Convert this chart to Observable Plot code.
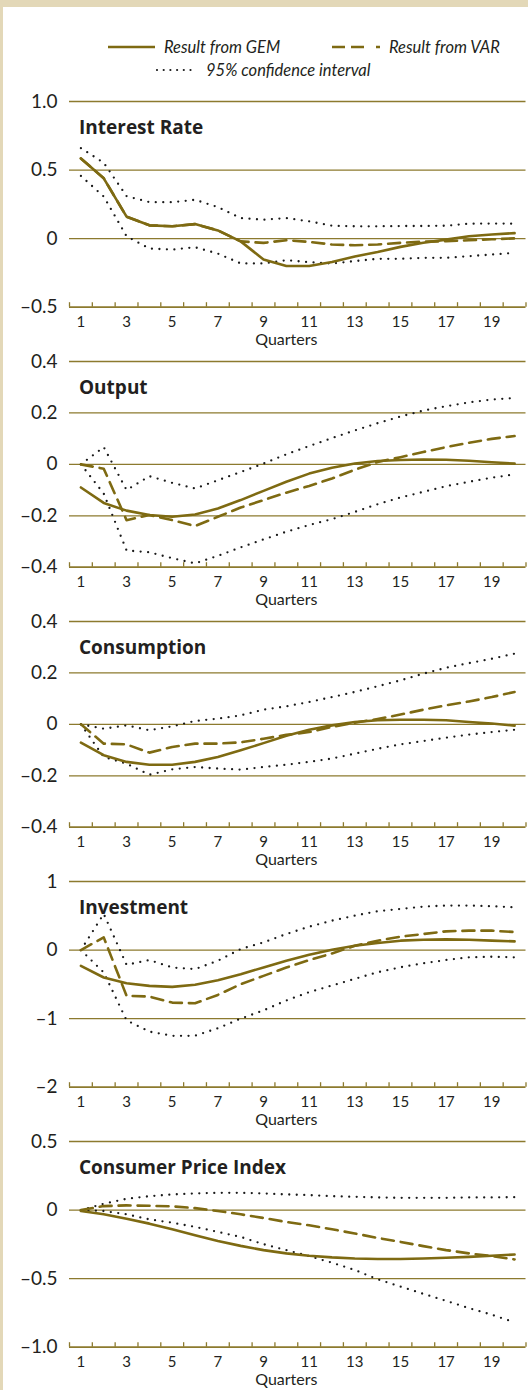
<!DOCTYPE html>
<html><head><meta charset="utf-8">
<script src="https://cdn.jsdelivr.net/npm/d3@7"></script>
<script src="https://cdn.jsdelivr.net/npm/@observablehq/plot@0.6"></script>
<style>
html,body{margin:0;padding:0;background:#e3d8b8;}
body{width:528px;height:1390px;overflow:hidden;position:relative;font-family:Lato,sans-serif;color:#231f20;}
#card{position:absolute;left:3px;top:7px;width:525px;height:1383px;background:#fff;overflow:hidden;}
#legend{position:absolute;left:0;top:0;width:525px;height:84px;}
#legend .t{position:absolute;font-style:italic;font-size:16.5px;line-height:20px;white-space:nowrap;}
#panels{position:absolute;left:0;top:84px;}
#panels svg{display:block;}
</style>
</head><body>
<div id="card">
  <div id="legend">
    <svg width="525" height="84" style="position:absolute;left:0;top:0">
      <line x1="105" y1="40" x2="152" y2="40" stroke="#7e6a12" stroke-width="2.6"/>
      <line x1="329" y1="40" x2="380" y2="40" stroke="#7e6a12" stroke-width="2.6" stroke-dasharray="13,6,13,12,4"/>
      <line x1="154" y1="63" x2="188" y2="63" stroke="#1a1a1a" stroke-width="2.2" stroke-linecap="round" stroke-dasharray="0,6.7"/>
    </svg>
    <div class="t" id="lg1" style="left:161px;top:30px"></div>
    <div class="t" id="lg2" style="left:386px;top:30px"></div>
    <div class="t" id="lg3" style="left:203px;top:53px"></div>
  </div>
  <div id="panels"></div>
</div>
<script>
// ---- legend text ----
const legendLabels = ["Result from GEM", "Result from VAR", "95% confidence interval"];

// ---- x axis ----
const quarters = [1,2,3,4,5,6,7,8,9,10,11,12,13,14,15,16,17,18,19,20];
const quarterLabels = [1,3,5,7,9,11,13,15,17,19];
const quarterBoundaries = [0.5,1.5,2.5,3.5,4.5,5.5,6.5,7.5,8.5,9.5,10.5,11.5,12.5,13.5,14.5,15.5,16.5,17.5,18.5,19.5,20.5];
const xAxisLabel = "Quarters";
const xAxisLabelAt = 10;

// ---- titles ----
const titles = ["Interest Rate", "Output", "Consumption", "Investment", "Consumer Price Index"];

// ---- y ticks ----
const irTicks = [1.0, 0.5, 0, -0.5];
const irTickLabels = ["1.0", "0.5", "0", "\u20130.5"];
const outTicks = [0.4, 0.2, 0, -0.2, -0.4];
const outTickLabels = ["0.4", "0.2", "0", "\u20130.2", "\u20130.4"];
const conTicks = [0.4, 0.2, 0, -0.2, -0.4];
const conTickLabels = ["0.4", "0.2", "0", "\u20130.2", "\u20130.4"];
const invTicks = [1, 0, -1, -2];
const invTickLabels = ["1", "0", "\u20131", "\u20132"];
const cpiTicks = [0.5, 0, -0.5, -1.0];
const cpiTickLabels = ["0.5", "0", "\u20130.5", "\u20131.0"];

// ---- Interest Rate ----
const irGEM   = [0.585,0.44,0.16,0.097,0.09,0.106,0.06,-0.02,-0.152,-0.2,-0.2,-0.17,-0.13,-0.097,-0.06,-0.03,-0.007,0.017,0.03,0.04];
const irVAR   = [0.585,0.44,0.16,0.097,0.09,0.106,0.06,-0.02,-0.031,-0.012,-0.024,-0.043,-0.048,-0.043,-0.031,-0.022,-0.019,-0.012,-0.005,0.002];
const irUpper = [0.66,0.553,0.31,0.266,0.266,0.283,0.23,0.15,0.138,0.15,0.126,0.094,0.09,0.09,0.092,0.092,0.094,0.109,0.11,0.109];
const irLower = [0.457,0.307,0.017,-0.072,-0.08,-0.063,-0.109,-0.181,-0.181,-0.157,-0.172,-0.181,-0.164,-0.147,-0.147,-0.14,-0.14,-0.128,-0.116,-0.104];

// ---- Output ----
const outGEM   = [-0.09,-0.15,-0.18,-0.197,-0.204,-0.195,-0.172,-0.139,-0.103,-0.068,-0.036,-0.013,0.003,0.013,0.017,0.019,0.018,0.014,0.008,0.003];
const outVAR   = [0,-0.017,-0.217,-0.197,-0.217,-0.24,-0.204,-0.168,-0.139,-0.11,-0.084,-0.055,-0.021,0.009,0.028,0.048,0.067,0.084,0.099,0.11];
const outUpper = [0,0.067,-0.1,-0.046,-0.072,-0.094,-0.062,-0.03,0.003,0.039,0.071,0.102,0.132,0.16,0.186,0.209,0.226,0.241,0.252,0.258];
const outLower = [0,-0.114,-0.335,-0.342,-0.365,-0.385,-0.356,-0.323,-0.292,-0.262,-0.236,-0.213,-0.185,-0.155,-0.129,-0.107,-0.085,-0.068,-0.052,-0.039];

// ---- Consumption ----
const conGEM   = [-0.071,-0.12,-0.146,-0.157,-0.157,-0.146,-0.127,-0.101,-0.073,-0.044,-0.021,-0.004,0.009,0.016,0.018,0.018,0.016,0.009,0.003,-0.005];
const conVAR   = [0,-0.075,-0.078,-0.11,-0.088,-0.075,-0.075,-0.07,-0.056,-0.041,-0.03,-0.01,0.006,0.021,0.038,0.057,0.074,0.089,0.106,0.126];
const conUpper = [0,-0.017,-0.004,-0.023,-0.008,0.013,0.022,0.035,0.057,0.07,0.087,0.106,0.126,0.148,0.171,0.197,0.22,0.238,0.255,0.275];
const conLower = [0,-0.127,-0.153,-0.196,-0.175,-0.166,-0.172,-0.176,-0.166,-0.157,-0.146,-0.133,-0.114,-0.095,-0.078,-0.065,-0.052,-0.04,-0.03,-0.021];

// ---- Investment ----
const invGEM   = [-0.23,-0.4,-0.483,-0.522,-0.537,-0.507,-0.44,-0.351,-0.254,-0.156,-0.068,0.005,0.063,0.102,0.137,0.151,0.156,0.151,0.137,0.127];
const invVAR   = [0,0.185,-0.668,-0.678,-0.766,-0.776,-0.654,-0.498,-0.376,-0.254,-0.146,-0.049,0.063,0.137,0.195,0.234,0.273,0.283,0.283,0.263];
const invUpper = [0,0.527,-0.215,-0.146,-0.254,-0.278,-0.156,0.015,0.112,0.234,0.341,0.429,0.502,0.566,0.6,0.634,0.649,0.649,0.639,0.624];
const invLower = [0,-0.327,-1.025,-1.19,-1.25,-1.25,-1.14,-1.0,-0.88,-0.735,-0.614,-0.517,-0.42,-0.324,-0.251,-0.193,-0.145,-0.106,-0.097,-0.106];

// ---- Consumer Price Index ----
const cpiGEM   = [-0.007,-0.031,-0.063,-0.099,-0.14,-0.184,-0.225,-0.261,-0.292,-0.316,-0.333,-0.345,-0.353,-0.357,-0.357,-0.353,-0.348,-0.341,-0.333,-0.324];
const cpiVAR   = [0,0.029,0.034,0.031,0.027,0.014,-0.007,-0.031,-0.058,-0.087,-0.111,-0.14,-0.171,-0.203,-0.232,-0.263,-0.292,-0.316,-0.336,-0.36];
const cpiUpper = [0,0.046,0.082,0.101,0.114,0.121,0.126,0.126,0.121,0.114,0.109,0.101,0.097,0.092,0.089,0.089,0.089,0.092,0.092,0.094];
const cpiLower = [0,-0.007,-0.031,-0.068,-0.092,-0.123,-0.159,-0.196,-0.249,-0.292,-0.336,-0.384,-0.437,-0.505,-0.558,-0.611,-0.662,-0.715,-0.763,-0.819];

// ---- styles ----
const LINE = "#7e6a12";
const GRID = "#8c7a2e";
const DOT = "#1a1a1a";
const TEXT = "#231f20";
const FONT = "Lato, 'Open Sans', sans-serif";

document.getElementById("lg1").textContent = legendLabels[0];
document.getElementById("lg2").textContent = legendLabels[1];
document.getElementById("lg3").textContent = legendLabels[2];

const W = 525, H = 260, MT = 10, MB = 44.3, ML = 66, MR = 2.5;
const frameH = H - MT - MB;

function rows(arr) { return quarters.map((q, i) => ({q, v: arr[i]})); }

function panel(title, gem, vr, upper, lower, ticks, tickLabels) {
  const yMin = Math.min(...ticks), yMax = Math.max(...ticks);
  return Plot.plot({
    width: W, height: H,
    marginTop: MT, marginBottom: MB, marginLeft: ML, marginRight: MR,
    x: {domain: [0.5, 20.5], label: null},
    y: {domain: [yMin, yMax], label: null},
    style: {fontFamily: FONT, background: "transparent", color: TEXT, overflow: "visible"},
    marks: [
      Plot.ruleY(ticks.filter(t => t !== yMin), {stroke: GRID, strokeWidth: 1.3}),
      Plot.ruleY([yMin], {stroke: GRID, strokeWidth: 1.7}),
      Plot.ruleX(quarterBoundaries, {x: d => d, stroke: GRID, strokeWidth: 1.3, insetTop: frameH - 4.5}),
      Plot.axisY(ticks, {tickSize: 0, tickPadding: 12, fontSize: 19, fill: TEXT, tickFormat: d => tickLabels[ticks.indexOf(d)]}),
      Plot.axisX(quarterLabels, {tickSize: 0, tickPadding: 9, fontSize: 15, fill: TEXT, tickFormat: d => String(d)}),
      Plot.text([xAxisLabel], {x: [xAxisLabelAt], frameAnchor: "bottom", dy: 38, fontSize: 16, fill: TEXT}),
      Plot.text([title], {frameAnchor: "top-left", dx: 9.5, dy: 19, textAnchor: "start", fontSize: 19, fontWeight: "bold", fill: TEXT, fontFamily: "'Open Sans', Lato, sans-serif"}),
      Plot.line(rows(upper), {x: "q", y: "v", stroke: DOT, strokeWidth: 2.3, strokeDasharray: "0,7.5", strokeLinecap: "round"}),
      Plot.line(rows(lower), {x: "q", y: "v", stroke: DOT, strokeWidth: 2.3, strokeDasharray: "0,7.5", strokeLinecap: "round"}),
      Plot.line(rows(vr), {x: "q", y: "v", stroke: LINE, strokeWidth: 2.6, strokeDasharray: "12,7"}),
      Plot.line(rows(gem), {x: "q", y: "v", stroke: LINE, strokeWidth: 2.6})
    ]
  });
}

const host = document.getElementById("panels");
host.appendChild(panel(titles[0], irGEM, irVAR, irUpper, irLower, irTicks, irTickLabels));
host.appendChild(panel(titles[1], outGEM, outVAR, outUpper, outLower, outTicks, outTickLabels));
host.appendChild(panel(titles[2], conGEM, conVAR, conUpper, conLower, conTicks, conTickLabels));
host.appendChild(panel(titles[3], invGEM, invVAR, invUpper, invLower, invTicks, invTickLabels));
host.appendChild(panel(titles[4], cpiGEM, cpiVAR, cpiUpper, cpiLower, cpiTicks, cpiTickLabels));
</script>
</body></html>
